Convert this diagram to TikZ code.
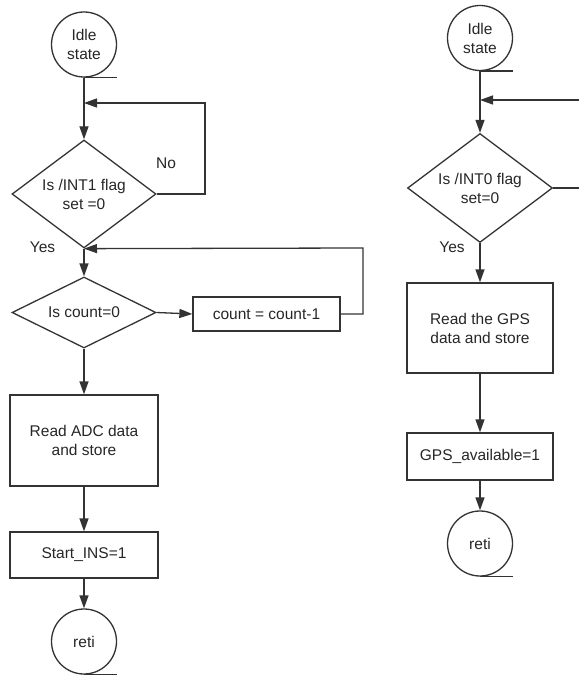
\documentclass[tikz,border=0pt]{standalone}
\usepackage{fontspec}
\setmainfont{Liberation Sans}
\usetikzlibrary{shapes.geometric,arrows.meta}
\begin{document}
\begin{tikzpicture}[x=1pt,y=-1pt,
  every node/.style={font=\fontsize{15.5}{19}\selectfont, text=black!85},
  line/.style={draw=black!80, line width=1.3pt},
  arr/.style={line, -{Triangle[length=13pt,width=9pt]}},
  term/.style={circle, line, minimum size=65pt, inner sep=0pt, align=center},
  proc/.style={rectangle, line, inner sep=0pt, align=center},
  dec/.style={diamond, line, inner sep=0pt, align=center},
  lbl/.style={inner sep=0pt}]
\useasboundingbox (0,0) rectangle (579,676);
% ---- left chart ----
\node[term] (idleL) at (84,44.5) {Idle\\state};
\draw[line] (idleL.south) -- ++(33,0);
\coordinate (jL1) at (84,103);
\node[dec, minimum width=144pt, minimum height=108pt, aspect=1.333] (d1) at (84,194) {Is /INT1 flag\\set =0};
\coordinate (jL2) at (d1.south);
\node[dec, minimum width=144pt, minimum height=71pt, aspect=2] (d2) at (84,312.5) {Is count=0};
\node[proc, minimum width=147pt, minimum height=34pt] (cnt) at (266.5,314) {count = count-1};
\node[proc, minimum width=148pt, minimum height=91pt] (adc) at (84,440.5) {Read ADC data\\and store};
\node[proc, minimum width=148pt, minimum height=46pt] (ins) at (84,555) {Start\_INS=1};
\node[term] (retiL) at (84,641.5) {reti};
\draw[line] (retiL.south) -- ++(33,0);
\coordinate (cL1) at (205,103);
\coordinate (cL2) at (363,248);
\node[lbl] (no) at (166,163) {No};
\node[lbl] (yesL) at (42.5,247.5) {Yes};
\draw[arr] (idleL.south) -- (d1.north);
\draw[arr] (d1.east) -| (cL1) -- (jL1);
\draw[arr] (d1.south) -- (d2.north);
\draw[arr] (d2.east) -- (cnt.west);
\draw[arr] (cnt.east) -| (cL2) -- (jL2);
\draw[arr] (d2.south) -- (adc.north);
\draw[arr] (adc.south) -- (ins.north);
\draw[arr] (ins.south) -- (retiL.north);
% ---- right chart ----
\node[term] (idleR) at (480,38) {Idle\\state};
\draw[line] (idleR.south) -- ++(33,0);
\coordinate (jR1) at (480,100);
\coordinate (eR1) at (579,100);
\coordinate (eR2) at (579,188);
\node[dec, minimum width=145pt, minimum height=109pt, aspect=1.333] (d3) at (480,188) {Is /INT0 flag\\set=0};
\node[proc, minimum width=146pt, minimum height=90pt] (gps) at (480,328) {Read the GPS\\data and store};
\node[proc, minimum width=146pt, minimum height=47pt] (avail) at (480,456.5) {GPS\_available=1};
\node[term] (retiR) at (480,543.5) {reti};
\draw[line] (retiR.south) -- ++(33,0);
\node[lbl] (yesR) at (452,247.5) {Yes};
\draw[arr] (idleR.south) -- (d3.north);
\draw[arr] (eR1) -- (jR1);
\draw[line] (d3.east) -- (eR2);
\draw[arr] (d3.south) -- (gps.north);
\draw[arr] (gps.south) -- (avail.north);
\draw[arr] (avail.south) -- (retiR.north);
\end{tikzpicture}
\end{document}
